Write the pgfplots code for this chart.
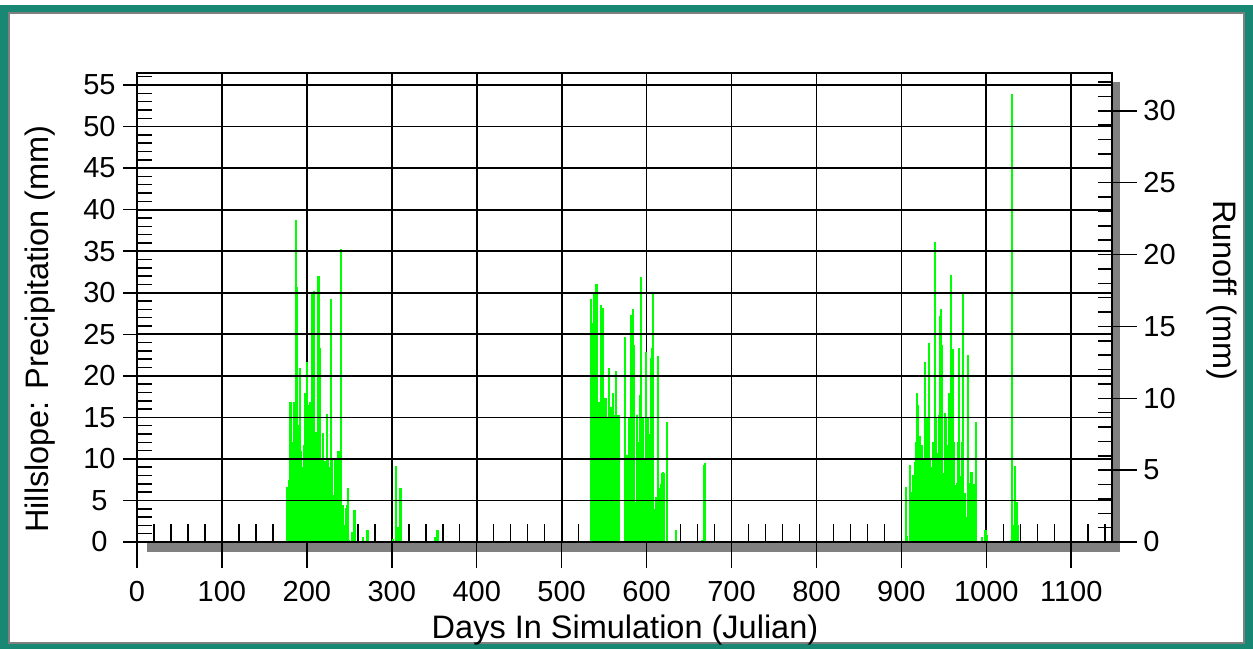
\documentclass[border=0pt]{standalone}
\usepackage{pgfplots}
\pgfplotsset{compat=1.18}
\usepackage{pgfplotstable}
\usepackage{fontspec}
\setmainfont{Liberation Sans}
\definecolor{frameteal}{RGB}{24,135,115}
\definecolor{bargreen}{RGB}{0,255,0}
\definecolor{shadowgray}{RGB}{128,128,128}

\pgfplotstableread{
day precip
177 6.6
179 7.5
180 16.9
181 16.9
182 8.1
183 10
184 12
185 16.9
186 14
187 38.7
188 30.7
189 12
190 14.1
191 10
192 20.9
193 11
194 6.5
195 4.5
196 9
197 11.7
198 17.9
199 14
200 21.7
201 15
202 16.5
203 12
204 16.9
205 13
206 30.1
207 14.5
208 30.2
209 11
210 1.7
211 13.3
212 12
213 32.0
214 32.0
215 23.3
216 12
217 2.9
218 10
219 13.1
220 8
221 9.7
222 9.7
223 6
224 15.4
225 10.1
226 9
227 1.7
228 4
229 29.2
230 10
231 5.6
232 4.4
233 10
234 10.1
235 2.4
236 6
237 10.9
238 10.5
239 11
240 35.3
241 2.9
242 3
243 4.5
244 1
245 2
246 4.1
247 4.4
248 6.5
250 0.2
253 1.2
256 3.8
257 3.8
266 0.65
271 1.45
272 1.45
301 0.35
305 9.15
306 1.85
307 1.85
308 1.85
310 6.5
311 6.5
351 0.65
353 1.45
354 1.45
535 29.2
536 26.4
537 26.4
538 30.1
539 26.4
540 31.0
541 31.0
542 31.0
543 16.9
544 16.9
545 12
546 28.5
547 14
548 10
549 28.2
550 17.3
551 17.3
552 17.3
553 2.0
554 15
555 13
556 20.9
557 16.3
558 16.3
559 3
560 17.9
561 7.1
562 14
563 15.3
564 20.6
565 15.3
566 15.3
567 15.3
575 24.7
576 10.5
577 10.5
578 10.5
579 14.9
580 10
581 10.5
582 27.3
583 12
584 28.1
585 23.7
586 2.4
587 4.85
588 4.85
589 15.3
590 3
591 12
592 17.7
593 13
594 31.9
595 15.1
596 15.1
597 8
598 10
599 22.9
600 13
601 7.1
602 15
603 2.4
604 13
605 22.1
606 23.3
607 25.7
608 30.0
609 2.4
610 4
611 5.45
612 5.45
613 0.5
614 22.4
615 6.5
616 6
617 7
618 8.3
619 8.46
620 8.3
624 14.4
635 1.45
665 0.25
668 9.3
669 9.5
906 6.65
907 0.7
910 9.3
911 3.85
912 4.65
913 6
914 8.1
915 8.1
916 9.66
917 12
918 17.9
919 16.5
920 13.1
921 9
922 12.7
923 8
924 11.7
925 6.5
926 10
927 5
928 21.7
929 14.9
930 8
931 14.9
932 12
933 24.0
934 9.9
935 8
936 9
937 12
938 4
939 36.1
940 15.1
941 15.1
942 8
943 10.7
944 15.3
945 12
946 27.2
947 28.1
948 23.7
949 8.26
950 2.65
951 15.5
952 12
953 14.9
954 4.7
955 11.7
956 17.9
957 17.7
958 32.1
959 16.5
960 10
961 23.2
962 12
963 6.86
964 4
965 7.06
966 7.06
967 12
968 23.3
969 2
970 8
971 12
972 30.1
973 2.85
975 5.86
976 3
978 22.5
979 9.06
980 7.1
981 6.65
982 8.46
983 8.46
984 5
985 7
988 14.5
995 0.65
999 1.45
1000 1.45
1001 0.8
1029 0.3
1030 53.9
1032 1.85
1033 2
1034 9.1
1035 2
1036 4.85
1037 2
}\precip

\pgfplotsset{
  common/.style={
    at={(68.5pt,53.5pt)}, anchor=south west,
    scale only axis, width=487.5pt, height=234.5pt,
    xmin=0, xmax=1148,
    tick align=inside,
    tick style={black, line width=0.75pt},
    major grid style={black, line width=0.85pt},
    axis line style={black, line width=0.9pt},
    tick label style={font=\fontsize{14.5}{15}\selectfont, inner sep=0pt},
    /pgf/number format/assume math mode=true,
    /pgf/number format/set thousands separator={},
    label style={font=\fontsize{16.25}{18}\selectfont},
  }
}

\begin{document}
\begin{tikzpicture}
\useasboundingbox (0,0) rectangle (626.5pt,324.5pt);
\fill[frameteal] (0,0) rectangle (626.5pt,324.5pt);
\fill[white] (0,322pt) rectangle (626.5pt,324.5pt);
\fill[white] (4.5pt,3pt) rectangle (622pt,318pt);
\draw[gray, line width=0.6pt] (4.5pt,3pt) rectangle (622pt,318pt);
\fill[shadowgray] (73.5pt,48.5pt) rectangle (560pt,283.5pt);

% x-axis features and the bars
\begin{axis}[common, ymin=0, ymax=56.45,
  axis background/.style={fill=white},
  xtick={0,100,...,1100}, minor xtick={20,40,...,1140},
  major tick length=-13pt, minor tick length=9pt,
  xmajorgrids, ytick=\empty, tick pos=left,
  xticklabel style={anchor=center, yshift=-25pt},
  xlabel={Days In Simulation (Julian)},
  xlabel style={at={(axis description cs:0.5005,-0.1876)}, anchor=center},
  ylabel={Hillslope: Precipitation (mm)},
  ylabel style={at={(axis description cs:-0.0995,0.454)}, anchor=center},
]
\addplot[ycomb, bargreen, line width=1pt, mark=none] table[x=day,y=precip]{\precip};
\end{axis}

% left y axis: horizontal grid drawn over the bars
\begin{axis}[common, ymin=0, ymax=56.45,
  xtick=\empty, ytick={0,5,...,55}, minor ytick={0,1,...,56},
  major tick length=-7pt, minor tick length=7.5pt,
  ymajorgrids, tick pos=left,
  yticklabel style={anchor=center, xshift=-18.75pt},
]
\end{axis}

% right y axis: runoff
\begin{axis}[common, ymin=0, ymax=32.63,
  axis y line*=right, axis x line=none,
  ytick={0,5,...,30}, minor ytick={0,1,...,32},
  major tick length=-12.5pt, minor tick length=7pt,
  yticklabel style={anchor=west, xshift=15.5pt},
  ylabel={Runoff (mm)},
  ylabel style={at={(axis description cs:1.1128,0.537)}, anchor=center, rotate=180},
]
\end{axis}
\end{tikzpicture}
\end{document}
